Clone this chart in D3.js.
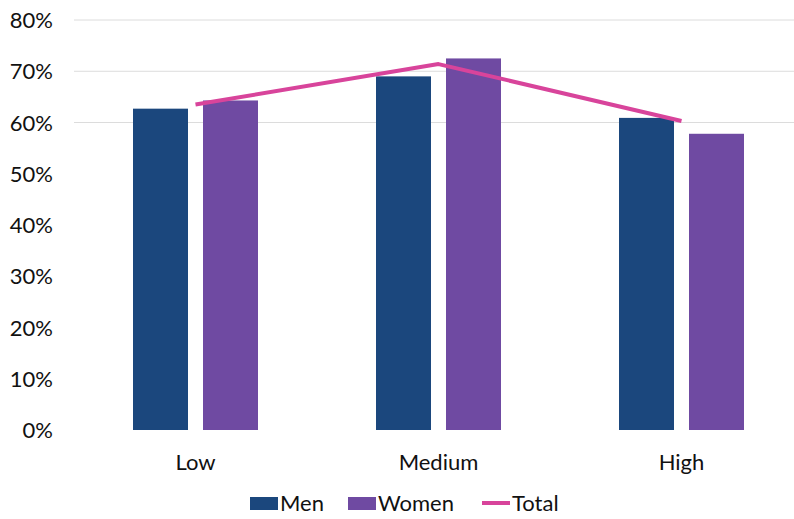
<!DOCTYPE html>
<html><head><meta charset="utf-8">
<script src="https://cdn.jsdelivr.net/npm/d3@7"></script>
<style>body{margin:0;background:#fff}svg{display:block}text{font-family:Lato,"Open Sans",sans-serif;fill:#111}</style>
</head><body><svg id="c" width="794" height="519"></svg>
<script>
const categories = ["Low", "Medium", "High"];
const men = [0.627, 0.690, 0.609];
const women = [0.643, 0.725, 0.578];
const total = [0.635, 0.714, 0.603];
const yTicks = [0, 0.1, 0.2, 0.3, 0.4, 0.5, 0.6, 0.7, 0.8];
const gridTicks = [0.6, 0.7, 0.8];
const seriesNames = ["Men", "Women", "Total"];
const colors = {Men: "#1b477d", Women: "#6f4aa2", Total: "#d8449b"};

const svg = d3.select("#c");
const x = d3.scaleBand().domain(categories).range([74, 803]).paddingInner(0).paddingOuter(0);
const y = d3.scaleLinear().domain([0, 0.8]).range([430, 20]);
const bw = 55, gap = 15;

// gridlines
svg.append("g").selectAll("line").data(gridTicks).join("line")
  .attr("x1", 74).attr("x2", 794).attr("y1", d => y(d)).attr("y2", d => y(d))
  .attr("stroke", "#dcdcdc").attr("stroke-width", 1);

// y axis labels
const yAxis = d3.axisLeft(y).tickValues(yTicks).tickFormat(d3.format(".0%")).tickSize(0).tickPadding(0);
const ga = svg.append("g").attr("transform", "translate(53,0)").call(yAxis);
ga.select(".domain").remove();
ga.selectAll("text").attr("font-size", 22).attr("font-family", "Lato, sans-serif").attr("fill", "#111").attr("dy", "0.35em");

// bars
const cx = c => x(c) + x.bandwidth() / 2;
svg.append("g").selectAll("rect").data(categories).join("rect")
  .attr("x", c => cx(c) - gap / 2 - bw).attr("width", bw)
  .attr("y", (c, i) => y(men[i])).attr("height", (c, i) => y(0) - y(men[i]))
  .attr("fill", colors.Men);
svg.append("g").selectAll("rect").data(categories).join("rect")
  .attr("x", c => cx(c) + gap / 2).attr("width", bw)
  .attr("y", (c, i) => y(women[i])).attr("height", (c, i) => y(0) - y(women[i]))
  .attr("fill", colors.Women);

// total line
const line = d3.line().x((d, i) => cx(categories[i])).y(d => y(d));
svg.append("path").datum(total).attr("d", line).attr("fill", "none")
  .attr("stroke", colors.Total).attr("stroke-width", 4).attr("stroke-linejoin", "round");

// x labels
const gx = svg.append("g").attr("transform", `translate(0,${y(0)})`)
  .call(d3.axisBottom(x).tickSize(0).tickPadding(24));
gx.select(".domain").remove();
gx.selectAll("text").attr("font-size", 22).attr("font-family", "Lato, sans-serif").attr("fill", "#111");

// legend
const lg = svg.append("g").attr("transform", "translate(0,503)");
const items = [{n: "Men", x: 250}, {n: "Women", x: 348}, {n: "Total", x: 482}];
items.forEach(it => {
  if (it.n === "Total") {
    lg.append("line").attr("x1", it.x).attr("x2", it.x + 28).attr("y1", 0).attr("y2", 0)
      .attr("stroke", colors.Total).attr("stroke-width", 4);
  } else {
    lg.append("rect").attr("x", it.x).attr("y", -6).attr("width", 28).attr("height", 13).attr("fill", colors[it.n]);
  }
  lg.append("text").attr("x", it.x + 30).attr("y", 0).attr("dy", "0.35em")
    .attr("font-size", 22).text(it.n);
});
</script></body></html>
